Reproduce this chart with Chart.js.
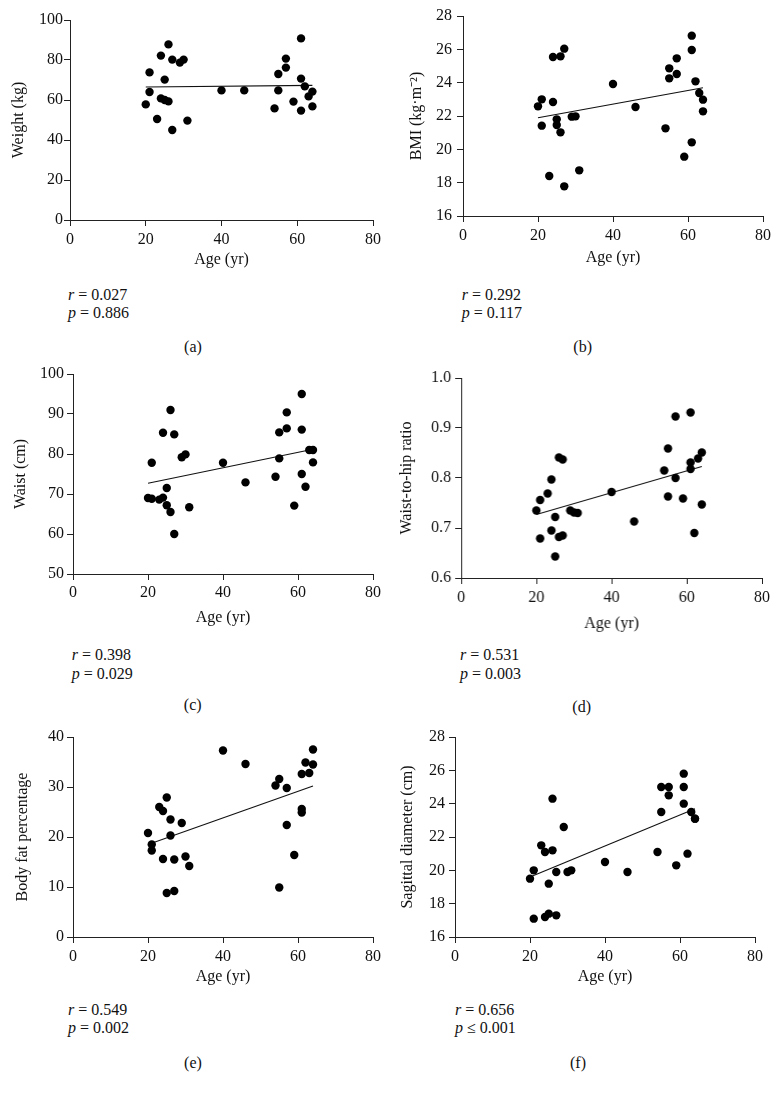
<!DOCTYPE html>
<html><head><meta charset="utf-8">
<script src="https://cdn.jsdelivr.net/npm/chart.js@4.4.1/dist/chart.umd.min.js"></script>
<style>
body{margin:0;background:#fff;width:780px;height:1098px;position:relative;overflow:hidden;font-family:"Liberation Serif","Times New Roman",serif;color:#111;}
.t{position:absolute;font-size:16px;white-space:nowrap;line-height:1;transform:translateY(-50%);}
.cap{transform:translate(-50%,-50%);}
</style></head><body>
<script>
// ---- data ----
const ageYears = [20,21,21,23,24,24,25,25,26,26,27,27,29,30,31,40,46,54,55,55,57,57,59,61,61,61,62,63,64,64];
const weightKg = [57.8,73.8,64.0,50.5,82.2,60.8,70.2,60.0,87.8,59.3,80.2,45.0,78.7,80.2,49.7,64.8,64.8,55.8,73.0,64.8,80.7,76.2,59.2,90.8,70.7,54.7,66.8,61.8,64.2,56.8];
const bmi = [22.58,23.0,21.42,18.4,25.54,22.84,21.8,21.46,25.58,21.02,26.04,17.78,21.96,21.98,18.74,23.92,22.54,21.26,24.86,24.26,25.46,24.52,19.56,26.82,25.96,20.42,24.08,23.38,22.98,22.28];
const waistCm = [69.0,68.8,77.8,68.6,69.1,85.3,71.5,67.2,91.0,65.5,84.9,60.0,79.2,79.9,66.7,77.8,72.9,74.3,85.4,78.9,86.4,90.4,67.1,95.0,86.1,75.0,71.8,81.0,81.0,77.9];
const waistHip = [0.735,0.756,0.679,0.769,0.797,0.695,0.722,0.643,0.841,0.682,0.837,0.685,0.735,0.731,0.730,0.772,0.713,0.815,0.859,0.763,0.923,0.800,0.759,0.931,0.831,0.818,0.690,0.839,0.851,0.747];
const bodyFat = [20.8,18.5,17.3,26.0,25.2,15.6,27.9,8.8,23.5,20.3,15.5,9.2,22.8,16.1,14.2,37.3,34.6,30.3,31.6,9.9,29.8,22.4,16.4,32.6,25.6,24.9,34.9,32.8,37.5,34.5];
const sagittalCm = [19.5,20.0,17.1,21.5,21.1,17.2,19.2,17.4,24.3,21.2,19.9,17.3,22.6,19.9,20.0,20.5,19.9,21.1,25.0,23.5,25.0,24.5,20.3,25.8,25.0,24.0,21.0,23.5,23.1,23.1];
// regression line end points [age, value]
const trendAges = [20, 64];
const weightTrend = [66.5, 67.3];
const bmiTrend = [21.9, 23.7];
const waistTrend = [72.7, 81.2];
const whrTrend = [0.727, 0.823];
const fatTrend = [18.5, 30.2];
const sagTrend = [19.6, 23.7];
// ticks
const xTicks = {min:0, max:80, step:20};
const yTicksA = {min:0, max:100, step:20};
const yTicksB = {min:16, max:28, step:2};
const yTicksC = {min:50, max:100, step:10};
const yTicksD = {min:0.6, max:1.0, step:0.1};
const yTicksE = {min:0, max:40, step:10};
const yTicksF = {min:16, max:28, step:2};
const stats = [
  ['0.027','= 0.886'],['0.292','= 0.117'],['0.398','= 0.029'],
  ['0.531','= 0.003'],['0.549','= 0.002'],['0.656','\u2264 0.001']
];
const captions = ['(a)','(b)','(c)','(d)','(e)','(f)'];
const yTitles = ['Weight (kg)','BMI (kg\u00b7m\u207b\u00b2)','Waist (cm)','Waist-to-hip ratio','Body fat percentage','Sagittal diameter (cm)'];

const FONT = '"Liberation Serif", "Times New Roman", serif';
const pts = vals => ageYears.map((a,i)=>({x:a, y:vals[i]}));
const trend = vals => trendAges.map((a,i)=>({x:a, y:vals[i]}));

const panels = [
  {vals:weightKg, tr:weightTrend, yt:yTicksA, dec:0, L:70,   T:20,    W:303,   H:200, titleX:18.3, xh:52, xpad:4.4, ypad:1,
   rX:68, rY:295, pY:313, capX:193, capY:347},
  {vals:bmi, tr:bmiTrend, yt:yTicksB, dec:0, L:462.7, T:15.7, W:300.3, H:200, titleX:416.7, xh:54, xpad:4.4, ypad:5,
   rX:461.7, rY:295, pY:313.3, capX:582.7, capY:346.7},
  {vals:waistCm, tr:waistTrend, yt:yTicksC, dec:0, L:72.7, T:374, W:300, H:200, titleX:20.7, xh:56, xpad:3.4, ypad:3,
   rX:71.7, rY:655, pY:674, capX:192.7, capY:705},
  {vals:waistHip, tr:whrTrend, yt:yTicksD, dec:1, L:461, T:378.3, W:300.7, H:200, titleX:406.7, xh:58, xpad:4.4, ypad:4,
   rX:460, rY:655, pY:674, capX:581.7, capY:706.7},
  {vals:bodyFat, tr:fatTrend, yt:yTicksE, dec:0, L:72.7, T:736.7, W:300, H:200, titleX:22, xh:52, xpad:4.4, ypad:3,
   rX:68, rY:1010, pY:1028, capX:193, capY:1063},
  {vals:sagittalCm, tr:sagTrend, yt:yTicksF, dec:0, L:455, T:736.7, W:300, H:200, titleX:408, xh:52, xpad:4.4, ypad:4,
   rX:455, rY:1010, pY:1028, capX:578, capY:1063}
];

const YW = 65;
panels.forEach((p, idx) => {
  const cl = p.L - YW, ct = p.T - 12;
  const w = YW + p.W + 22, h = 12 + p.H + p.xh;
  const cv = document.createElement('canvas');
  cv.width = w; cv.height = h;
  cv.style.cssText = `position:absolute;left:${cl}px;top:${ct}px;width:${w}px;height:${h}px`;
  document.body.appendChild(cv);
  const font = {family: FONT, size: 16};
  new Chart(cv, {
    type: 'scatter',
    data: {datasets: [
      {data: pts(p.vals), pointRadius: 4.2, pointHoverRadius: 4.2, backgroundColor: '#000', borderWidth: 0, pointBorderWidth: 0, clip: false},
      {data: trend(p.tr), showLine: true, pointRadius: 0, borderColor: '#111', borderWidth: 1.1, fill: false}
    ]},
    options: {
      responsive: false, animation: false, devicePixelRatio: 1,
      layout: {padding: {left: 0, top: 12, right: 22, bottom: 0}},
      plugins: {legend: {display: false}, tooltip: {enabled: false}},
      scales: {
        x: {type: 'linear', min: xTicks.min, max: xTicks.max,
          ticks: {stepSize: xTicks.step, padding: p.xpad, color: '#111', font},
          grid: {display: true, drawOnChartArea: false, drawTicks: true, tickLength: 6, tickColor: '#222'},
          border: {display: true, color: '#222', width: 1},
          title: {display: true, text: 'Age (yr)', color: '#111', font, padding: {top: 0, bottom: 2.4}},
          afterFit(s) { s.height = p.xh; s.paddingLeft = 0; s.paddingRight = 0; }
        },
        y: {type: 'linear', min: p.yt.min, max: p.yt.max,
          ticks: {stepSize: p.yt.step, padding: p.ypad, color: '#111', font,
            callback: v => Number(v).toFixed(p.dec)},
          grid: {display: true, drawOnChartArea: false, drawTicks: true, tickLength: 6, tickColor: '#222'},
          border: {display: true, color: '#222', width: 1},
          title: {display: true, text: yTitles[idx], color: '#111', font, padding: {top: p.titleX - cl - 9.6, bottom: 0}},
          afterFit(s) { s.width = YW; s.paddingTop = 0; s.paddingBottom = 0; }
        }
      }
    }
  });
  const r = document.createElement('div');
  r.className = 't'; r.style.left = p.rX + 'px'; r.style.top = p.rY + 'px';
  r.innerHTML = '<i>r</i> = ' + stats[idx][0];
  document.body.appendChild(r);
  const q = document.createElement('div');
  q.className = 't'; q.style.left = p.rX + 'px'; q.style.top = p.pY + 'px';
  q.innerHTML = '<i>p</i> ' + stats[idx][1];
  document.body.appendChild(q);
  const c = document.createElement('div');
  c.className = 't cap'; c.style.left = p.capX + 'px'; c.style.top = p.capY + 'px';
  c.textContent = captions[idx];
  document.body.appendChild(c);
});
</script>
</body></html>
